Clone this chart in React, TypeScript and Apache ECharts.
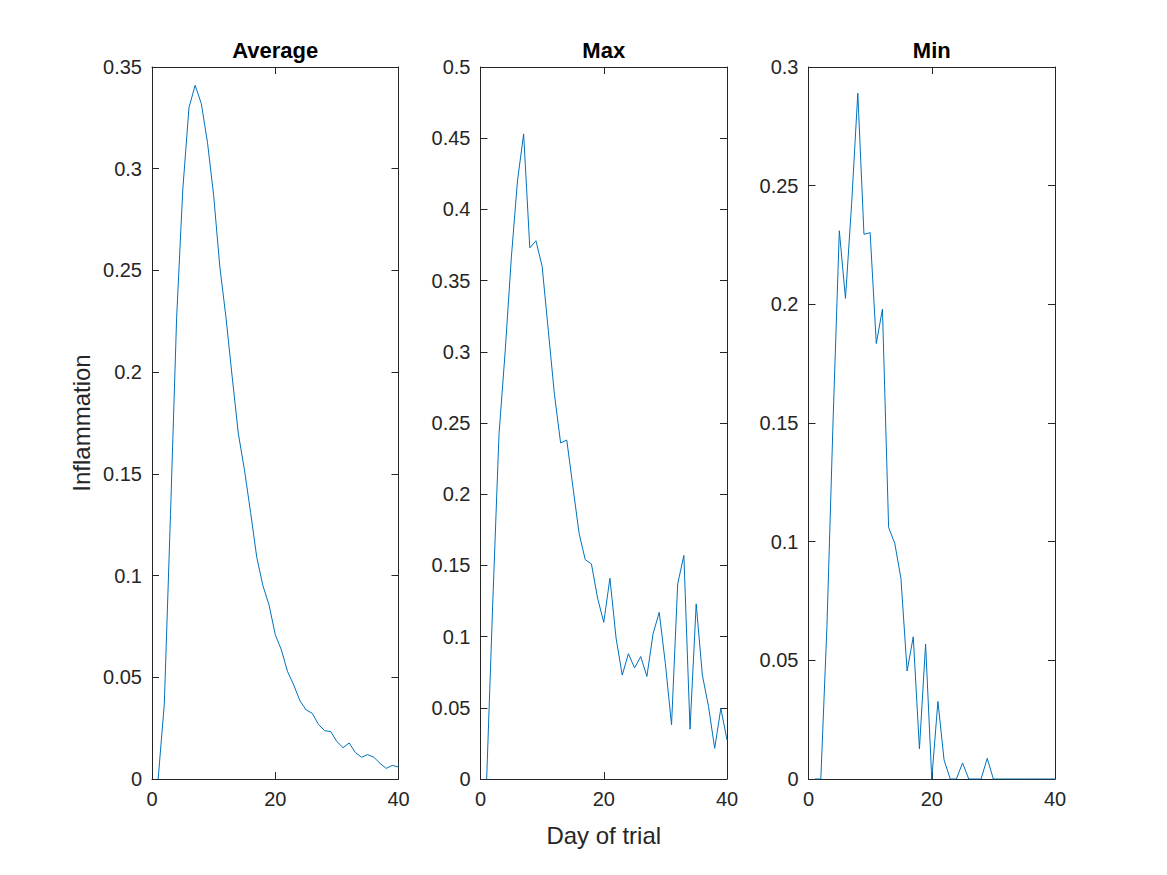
import React, { useEffect, useRef } from 'react';
import * as echarts from 'echarts';

const days = [1, 2, 3, 4, 5, 6, 7, 8, 9, 10, 11, 12, 13, 14, 15, 16, 17, 18, 19, 20,
  21, 22, 23, 24, 25, 26, 27, 28, 29, 30, 31, 32, 33, 34, 35, 36, 37, 38, 39, 40];

const averageValues = [0, 0.037, 0.13, 0.227, 0.29, 0.33, 0.341, 0.332, 0.313, 0.287,
  0.252, 0.227, 0.198, 0.17, 0.152, 0.131, 0.109, 0.095, 0.0855, 0.071,
  0.0634, 0.0528, 0.0462, 0.0385, 0.034, 0.0323, 0.0269, 0.0238, 0.0233, 0.0184,
  0.0154, 0.0177, 0.013, 0.0107, 0.012, 0.0107, 0.0077, 0.0052, 0.0067, 0.0059];

const maxValues = [0, 0.125, 0.242, 0.3, 0.366, 0.42, 0.453, 0.373, 0.378, 0.36,
  0.315, 0.27, 0.236, 0.238, 0.205, 0.1725, 0.154, 0.151, 0.127, 0.11,
  0.141, 0.099, 0.073, 0.088, 0.078, 0.086, 0.072, 0.102, 0.117, 0.081,
  0.038, 0.137, 0.157, 0.035, 0.123, 0.073, 0.051, 0.0215, 0.0496, 0.0274];

const minValues = [0, 0, 0.065, 0.152, 0.231, 0.2025, 0.2425, 0.289, 0.2295, 0.2302,
  0.1835, 0.198, 0.106, 0.0993, 0.0845, 0.0455, 0.0599, 0.0127, 0.0569, 0,
  0.0327, 0.008, 0, 0, 0.0068, 0, 0, 0, 0.0087, 0,
  0, 0, 0, 0, 0, 0, 0, 0, 0, 0];

const panelTitles = ['Average', 'Max', 'Min'];
const panelYMax = [0.35, 0.5, 0.3];
const panelSeries = [averageValues, maxValues, minValues];
const xTickInterval = 20;
const yTickInterval = 0.05;
const xLabel = 'Day of trial';
const yLabel = 'Inflammation';

const FONT = '"Liberation Sans", Arial, Helvetica, sans-serif';
const AXIS_COLOR = '#262626';
const LINE_COLOR = '#0072BD';

const gridLefts = [152, 480.5, 808.5];
const gridTop = 67;
const gridWidth = 246.5;
const gridHeight = 712;

export default function App() {
  const ref = useRef<HTMLDivElement>(null);

  useEffect(() => {
    if (!ref.current) return;
    const chart = echarts.init(ref.current, null, { renderer: 'svg' });

    const axisLine = { show: true, onZero: false, lineStyle: { color: AXIS_COLOR, width: 1 } };
    const axisTick = { show: true, inside: true, length: 7, lineStyle: { color: AXIS_COLOR, width: 1 } };
    const fmt = (v: number) => String(parseFloat(Number(v).toFixed(4)));

    const grids: any[] = [];
    const xAxes: any[] = [];
    const yAxes: any[] = [];
    const series: any[] = [];
    const graphics: any[] = [];

    panelTitles.forEach((title, i) => {
      grids.push({ left: gridLefts[i], top: gridTop, width: gridWidth, height: gridHeight, containLabel: false });
      xAxes.push({
        gridIndex: i, type: 'value', min: 0, max: 40, interval: xTickInterval, position: 'bottom',
        axisLine, axisTick, splitLine: { show: false },
        axisLabel: { color: AXIS_COLOR, fontSize: 20, fontFamily: FONT, margin: 10, formatter: fmt },
      });
      xAxes.push({
        gridIndex: i, type: 'value', min: 0, max: 40, interval: xTickInterval, position: 'top',
        axisLine, axisTick, splitLine: { show: false }, axisLabel: { show: false },
      });
      yAxes.push({
        gridIndex: i, type: 'value', min: 0, max: panelYMax[i], interval: yTickInterval, position: 'left',
        axisLine, axisTick, splitLine: { show: false },
        axisLabel: { color: AXIS_COLOR, fontSize: 20, fontFamily: FONT, margin: 10, formatter: fmt },
      });
      yAxes.push({
        gridIndex: i, type: 'value', min: 0, max: panelYMax[i], interval: yTickInterval, position: 'right',
        axisLine, axisTick, splitLine: { show: false }, axisLabel: { show: false },
      });
      series.push({
        type: 'line',
        name: title,
        xAxisIndex: i * 2,
        yAxisIndex: i * 2,
        data: days.map((d, k) => [d, panelSeries[i][k]]),
        showSymbol: false,
        symbol: 'none',
        lineStyle: { color: LINE_COLOR, width: 1 },
        itemStyle: { color: LINE_COLOR },
      });
      graphics.push({
        type: 'text',
        x: gridLefts[i] + gridWidth / 2,
        y: 50,
        style: {
          text: title,
          align: 'center',
          verticalAlign: 'middle',
          font: `bold 22px ${FONT}`,
          fill: '#000',
        },
      });
    });

    graphics.push({
      type: 'text',
      x: gridLefts[1] + gridWidth / 2,
      y: 835,
      style: { text: xLabel, align: 'center', verticalAlign: 'middle', font: `24px ${FONT}`, fill: AXIS_COLOR },
    });
    graphics.push({
      type: 'text',
      x: 81,
      y: gridTop + gridHeight / 2,
      rotation: Math.PI / 2,
      style: { text: yLabel, align: 'center', verticalAlign: 'middle', font: `24px ${FONT}`, fill: AXIS_COLOR },
    });

    chart.setOption({
      animation: false,
      backgroundColor: '#ffffff',
      grid: grids,
      xAxis: xAxes,
      yAxis: yAxes,
      series,
      graphic: graphics,
    });

    return () => chart.dispose();
  }, []);

  return <div ref={ref} style={{ position: 'absolute', left: 0, top: 0, width: 1167, height: 875 }} />;
}
